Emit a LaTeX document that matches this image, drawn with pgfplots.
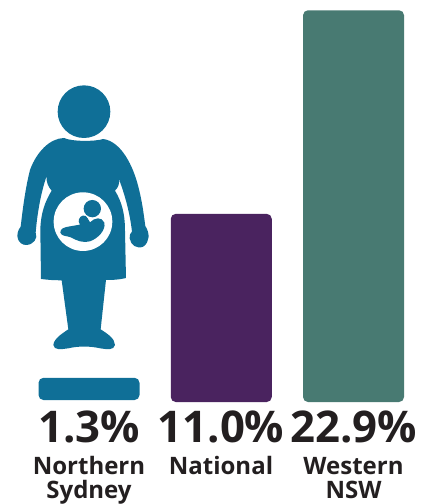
\documentclass[border=0pt]{standalone}
\usepackage{fontspec}
\setmainfont{Open Sans}
\usepackage{pgfplots}
\pgfplotsset{compat=1.18}
\definecolor{nsblue}{HTML}{0F6F97}
\definecolor{natpurple}{HTML}{4A235F}
\definecolor{wnswteal}{HTML}{487A72}
\definecolor{labeltext}{HTML}{231F20}
\begin{document}
\begin{tikzpicture}[x=1bp,y=1bp]
  \path[use as bounding box] (0,0) rectangle (433bp,504bp);
  \begin{axis}[
      at={(0,0)},anchor=south west,
      width=433bp,height=504bp,
      scale only axis,
      hide axis,
      clip=false,
      xmin=-0.673,xmax=2.601,
      ymin=-5.96,ymax=23.5,
      ybar,
      bar shift=0pt,
      bar width=101bp,
    ]
    \addplot[fill=nsblue,draw=none,rounded corners=5bp,yshift=2bp] coordinates {(0,1.3)};
    \addplot[fill=natpurple,draw=none,rounded corners=5bp] coordinates {(1,11.0)};
    \addplot[fill=wnswteal,draw=none,rounded corners=5bp] coordinates {(2,22.9)};
  \end{axis}
  % labels, in reference pixels
  \begin{scope}[shift={(0,504bp)},x=1bp,y=-1bp,text=labeltext,font=\bfseries]
    \foreach \xx/\val in {89/1.3,221/11.0,353.5/22.9}
      \node[anchor=base,inner sep=0pt] at (\xx,442.5) {\fontsize{43.7bp}{44bp}\selectfont\val\%};
    \foreach \xx/\nm in {89/Northern,221/National,353.5/Western}
      \node[anchor=base,inner sep=0pt] at (\xx,475) {\fontsize{24bp}{25bp}\selectfont\nm};
    \foreach \xx/\nm in {89/Sydney,353.5/NSW}
      \node[anchor=base,inner sep=0pt] at (\xx,498.2) {\fontsize{24bp}{25bp}\selectfont\nm};
  \end{scope}
  % pregnant woman icon, in units of a third of a pixel
  \begin{scope}[shift={(0,434bp)},x=0.3333bp,y=-0.3333bp]
    \fill[nsblue] (252,125) circle[radius=79];
    \fill[nsblue]
      (192,204) .. controls (215,215) and (285,215) .. (310,207)
      .. controls (365,215) and (400,290) .. (415,350)
      .. controls (428,400) and (432,440) .. (436,468)
      .. controls (450,490) and (450,515) .. (430,530)
      .. controls (410,538) and (392,525) .. (389,505)
      .. controls (387,495) and (392,490) .. (396,485)
      .. controls (390,430) and (375,375) .. (356,325)
      .. controls (360,340) and (355,352) .. (345,362)
      .. controls (365,395) and (375,430) .. (375,480)
      -- (378,624)
      .. controls (355,630) and (335,630) .. (318,630)
      -- (302,778)
      .. controls (320,790) and (345,805) .. (345,825)
      .. controls (342,842) and (320,838) .. (300,835)
      .. controls (270,828) and (235,828) .. (205,835)
      .. controls (185,838) and (162,842) .. (160,825)
      .. controls (162,805) and (188,790) .. (205,778)
      -- (185,631)
      .. controls (165,631) and (145,630) .. (123,627)
      -- (121,480)
      .. controls (122,430) and (135,395) .. (155,362)
      .. controls (145,350) and (138,338) .. (140,318)
      .. controls (122,370) and (112,430) .. (107,488)
      .. controls (115,505) and (100,525) .. (78,525)
      .. controls (55,525) and (42,495) .. (62,470)
      .. controls (68,420) and (75,360) .. (90,300)
      .. controls (110,245) and (150,205) .. (192,204)
      -- cycle;
    \fill[white] (249,455) circle[radius=88];
    \fill[nsblue] (277,416) circle[radius=26];
    \fill[nsblue]
      (237,448) .. controls (240,435) and (258,432) .. (263,445)
      -- (270,457)
      .. controls (285,442) and (305,440) .. (313,458)
      .. controls (318,480) and (295,505) .. (270,514)
      .. controls (250,520) and (230,512) .. (212,502)
      .. controls (200,497) and (185,500) .. (181,488)
      .. controls (180,475) and (195,472) .. (205,470)
      -- (240,464)
      .. controls (236,458) and (235,453) .. (237,448)
      -- cycle;
  \end{scope}
\end{tikzpicture}
\end{document}
